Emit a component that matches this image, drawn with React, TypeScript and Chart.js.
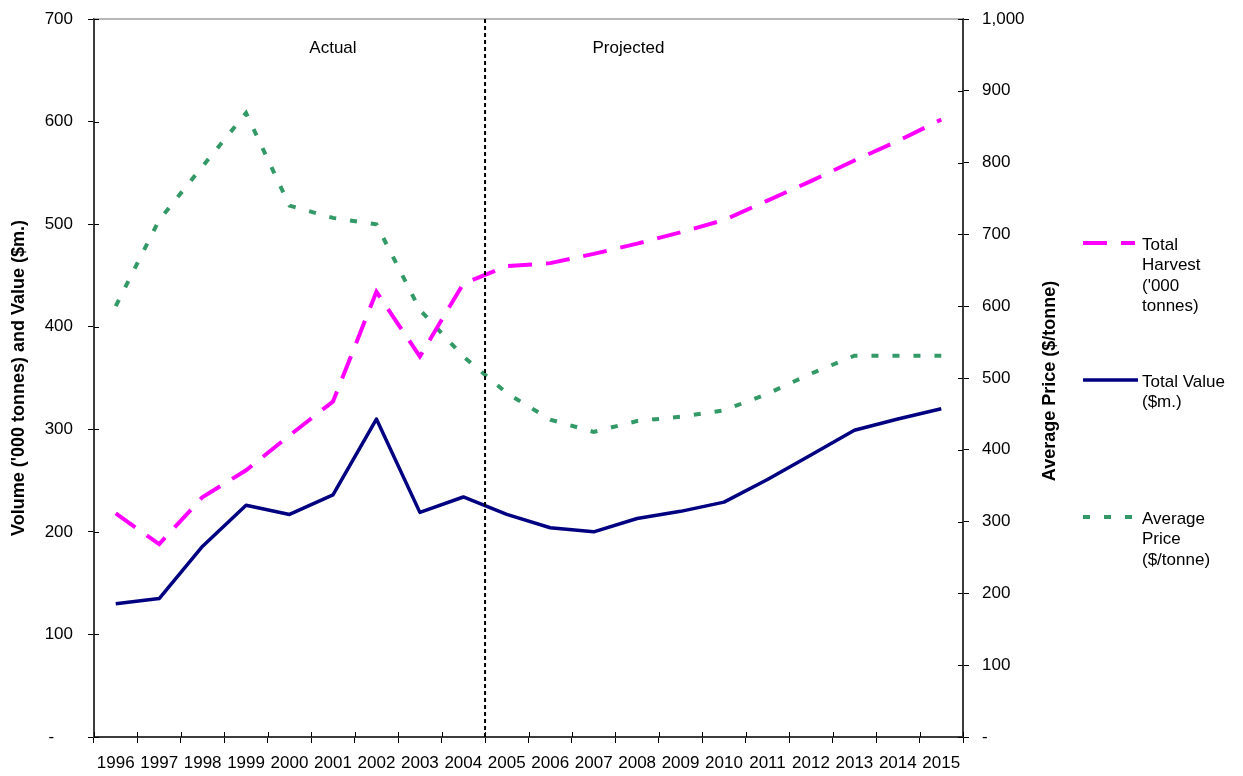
import React, { useEffect, useRef } from 'react';
import { Chart, registerables } from 'chart.js';

Chart.register(...registerables);

// Harvest years, actual (1996-2004) and projected (2005-2015)
const years = [
  '1996', '1997', '1998', '1999', '2000', '2001', '2002', '2003', '2004', '2005',
  '2006', '2007', '2008', '2009', '2010', '2011', '2012', '2013', '2014', '2015',
];

// Total harvest, '000 tonnes (left axis)
const totalHarvest = [
  218, 188, 234, 260, 294, 327, 434, 371, 442, 459,
  462, 471, 481, 492, 504, 523, 542, 562, 581, 602,
];

// Total value, $m. (left axis)
const totalValue = [
  130, 135, 186, 226, 217, 236, 310, 219, 234, 217,
  204, 200, 213, 220, 229, 251, 275, 299, 310, 320,
];

// Average price, $/tonne (right axis)
const averagePrice = [
  600, 720, 795, 869, 740, 723, 714, 595, 530, 479,
  442, 425, 440, 446, 455, 478, 506, 531, 531, 531,
];

const seriesLabels = [
  ['Total', 'Harvest', "('000", 'tonnes)'],
  ['Total Value', '($m.)'],
  ['Average', 'Price', '($/tonne)'],
];

const leftAxisTitle = "Volume ('000 tonnes) and Value ($m.)";
const rightAxisTitle = 'Average Price ($/tonne)';
const periodLabels = ['Actual', 'Projected'];
const lastActualIndex = 8; // 2004

const FONT = "'Liberation Sans', Arial, sans-serif";
const AXIS_COLOR = '#3c3c3c';

const overlayPlugin = {
  id: 'overlay',
  beforeDatasetsDraw(chart: any) {
    const { ctx, chartArea } = chart;
    const x = chart.scales.x;
    const yL = chart.scales.yVolume;
    const yR = chart.scales.yPrice;
    ctx.save();
    // top frame line
    ctx.strokeStyle = '#a0a0a0';
    ctx.lineWidth = 1.5;
    ctx.beginPath();
    ctx.moveTo(chartArea.left, chartArea.top);
    ctx.lineTo(chartArea.right, chartArea.top);
    ctx.stroke();

    // inner halves of the crossing tick marks
    ctx.strokeStyle = '#000';
    ctx.lineWidth = 1;
    ctx.beginPath();
    yL.ticks.forEach((t: any) => {
      const py = Math.round(yL.getPixelForValue(t.value)) + 0.5;
      ctx.moveTo(chartArea.left, py);
      ctx.lineTo(chartArea.left + 5, py);
    });
    yR.ticks.forEach((t: any) => {
      const py = Math.round(yR.getPixelForValue(t.value)) + 0.5;
      ctx.moveTo(chartArea.right - 5, py);
      ctx.lineTo(chartArea.right, py);
    });
    const step = x.getPixelForValue(1) - x.getPixelForValue(0);
    for (let i = 0; i <= years.length; i++) {
      const px = Math.round(x.getPixelForValue(i) - step / 2) + 0.5;
      ctx.moveTo(px, chartArea.bottom - 5);
      ctx.lineTo(px, chartArea.bottom);
    }
    ctx.stroke();
    ctx.restore();
  },
  afterDatasetsDraw(chart: any) {
    const { ctx, chartArea } = chart;
    const x = chart.scales.x;
    ctx.save();
    // actual / projected divider
    const divX =
      (x.getPixelForValue(lastActualIndex) + x.getPixelForValue(lastActualIndex + 1)) / 2;
    ctx.strokeStyle = '#000';
    ctx.lineWidth = 2;
    ctx.setLineDash([4, 3]);
    ctx.beginPath();
    ctx.moveTo(divX, chartArea.top);
    ctx.lineTo(divX, chartArea.bottom);
    ctx.stroke();
    ctx.setLineDash([]);

    ctx.fillStyle = '#000';
    ctx.font = `17px ${FONT}`;
    ctx.textAlign = 'center';
    ctx.textBaseline = 'middle';
    ctx.fillText(periodLabels[0], x.getPixelForValue(5), chartArea.top + 29);
    ctx.fillText(periodLabels[1], x.getPixelForValue(11.8), chartArea.top + 29);
    ctx.restore();
  },
  afterDraw(chart: any) {
    const { ctx, chartArea } = chart;
    const midY = (chartArea.top + chartArea.bottom) / 2;
    ctx.save();
    ctx.fillStyle = '#000';
    ctx.font = `bold 18px ${FONT}`;
    ctx.textAlign = 'center';
    ctx.textBaseline = 'middle';
    ctx.save();
    ctx.translate(19, midY);
    ctx.rotate(-Math.PI / 2);
    ctx.fillText(leftAxisTitle, 0, 0);
    ctx.restore();
    ctx.save();
    ctx.translate(chartArea.right + 87, midY + 3);
    ctx.rotate(-Math.PI / 2);
    ctx.fillText(rightAxisTitle, 0, 0);
    ctx.restore();

    // legend
    const rowY = [243, 380, 517];
    const lineX0 = 1083;
    const lineX1 = [1135, 1138, 1135];
    const textX = 1142;
    chart.data.datasets.forEach((ds: any, i: number) => {
      ctx.save();
      ctx.strokeStyle = ds.borderColor;
      ctx.lineWidth = ds.borderWidth;
      ctx.setLineDash(ds.borderDash || []);
      ctx.beginPath();
      ctx.moveTo(lineX0, rowY[i]);
      ctx.lineTo(lineX1[i], rowY[i]);
      ctx.stroke();
      ctx.restore();
      ctx.font = `17px ${FONT}`;
      ctx.textAlign = 'left';
      ctx.textBaseline = 'middle';
      seriesLabels[i].forEach((line, k) => {
        ctx.fillText(line, textX, rowY[i] + 2 + k * 20.5);
      });
    });
    ctx.restore();
  },
};

function fixHeight(h: number) {
  return (scale: any) => {
    scale.height = h;
    scale.paddingLeft = 0;
    scale.paddingRight = 0;
    scale.paddingTop = 0;
    scale.paddingBottom = 0;
  };
}

function fixWidth(w: number) {
  return (scale: any) => {
    scale.width = w;
    scale.paddingLeft = 0;
    scale.paddingRight = 0;
    scale.paddingTop = 0;
    scale.paddingBottom = 0;
  };
}

export default function App() {
  const canvasRef = useRef<HTMLCanvasElement | null>(null);

  useEffect(() => {
    document.body.style.margin = '0';
    const canvas = canvasRef.current;
    if (!canvas) return;
    const tickFont = { family: FONT, size: 17 };
    const chart = new Chart(canvas, {
      type: 'line',
      data: {
        labels: years,
        datasets: [
          {
            label: seriesLabels[0].join(' '),
            data: totalHarvest,
            yAxisID: 'yVolume',
            borderColor: '#ff00ff',
            borderWidth: 4,
            borderDash: [24, 14],
            pointRadius: 0,
            fill: false,
            tension: 0,
          },
          {
            label: seriesLabels[1].join(' '),
            data: totalValue,
            yAxisID: 'yVolume',
            borderColor: '#000080',
            borderWidth: 3.5,
            borderJoinStyle: 'round',
            pointRadius: 0,
            fill: false,
            tension: 0,
          },
          {
            label: seriesLabels[2].join(' '),
            data: averagePrice,
            yAxisID: 'yPrice',
            borderColor: '#339966',
            borderWidth: 4,
            borderDash: [7, 14],
            pointRadius: 0,
            fill: false,
            tension: 0,
          },
        ],
      },
      options: {
        responsive: false,
        animation: false,
        devicePixelRatio: 1,
        layout: { padding: { left: 0, top: 19, right: 180, bottom: 0 } },
        plugins: {
          legend: { display: false },
          tooltip: { enabled: false },
        },
        scales: {
          x: {
            type: 'category',
            offset: true,
            grid: {
              offset: true,
              drawOnChartArea: false,
              drawTicks: true,
              tickLength: 6,
              tickColor: '#000',
            },
            border: { display: true, color: AXIS_COLOR, width: 2 },
            ticks: {
              color: '#000',
              font: tickFont,
              padding: 10,
              autoSkip: false,
              maxRotation: 0,
              minRotation: 0,
            },
            afterFit: fixHeight(39),
          },
          yVolume: {
            type: 'linear',
            position: 'left',
            min: 0,
            max: 700,
            grid: {
              drawOnChartArea: false,
              drawTicks: true,
              tickLength: 6,
              tickColor: '#000',
            },
            border: { display: true, color: AXIS_COLOR, width: 2 },
            ticks: {
              stepSize: 100,
              color: '#000',
              font: tickFont,
              padding: 15,
              callback: (v: any) => (v === 0 ? '-    ' : String(v)),
            },
            afterFit: fixWidth(94),
          },
          yPrice: {
            type: 'linear',
            position: 'right',
            min: 0,
            max: 1000,
            grid: {
              drawOnChartArea: false,
              drawTicks: true,
              tickLength: 6,
              tickColor: '#000',
            },
            border: { display: true, color: AXIS_COLOR, width: 2 },
            ticks: {
              stepSize: 100,
              color: '#000',
              font: tickFont,
              padding: 13,
              callback: (v: any) => (v === 0 ? '-' : Number(v).toLocaleString('en-US')),
            },
            afterFit: fixWidth(100),
          },
        },
      },
      plugins: [overlayPlugin],
    });
    return () => chart.destroy();
  }, []);

  return (
    <div style={{ width: 1243, height: 776, background: '#fff' }}>
      <canvas ref={canvasRef} width={1243} height={776} />
    </div>
  );
}
